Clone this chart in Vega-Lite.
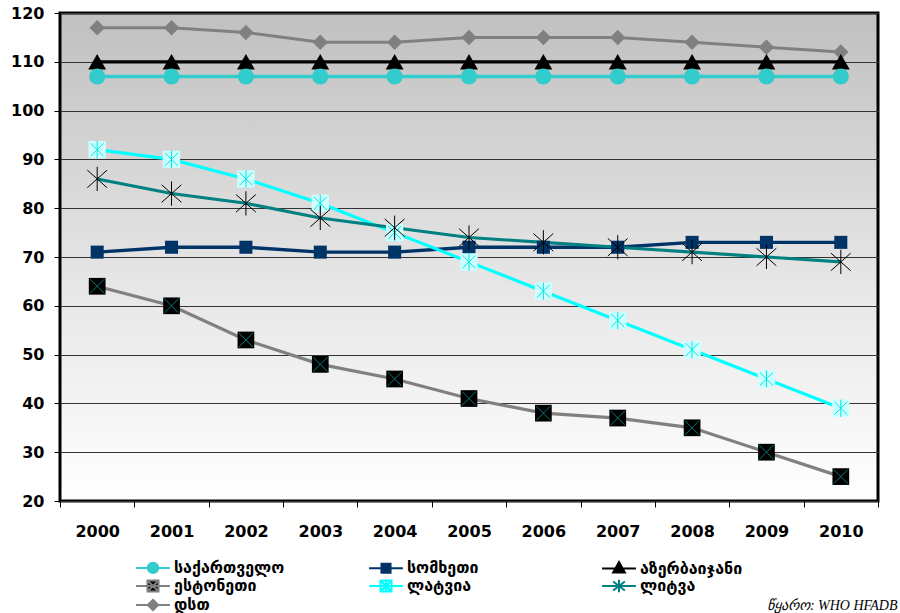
{
  "$schema": "https://vega.github.io/schema/vega-lite/v6.json",
  "autosize": {"type": "none"},
  "width": 818,
  "height": 488,
  "padding": {"left": 60, "top": 13, "right": 22, "bottom": 112},
  "background": "#ffffff",
  "config": {
    "view": {
      "stroke": "#000000",
      "strokeWidth": 3,
      "fill": {"gradient": "linear", "x1": 0, "y1": 0, "x2": 0, "y2": 1,
        "stops": [{"offset": 0, "color": "#c0c0c0"}, {"offset": 0.55, "color": "#e6e6e6"}, {"offset": 1, "color": "#ffffff"}]}
    },
    "axis": {"labelFont": "DejaVu Sans", "labelFontWeight": "bold", "labelFontSize": 16, "labelColor": "#000000", "domain": false, "tickColor": "#000000", "tickSize": 6},
    "legend": {"title": null, "orient": "none", "legendX": 85, "legendY": 546, "columns": 3, "direction": "horizontal",
      "symbolSize": 169, "symbolStrokeWidth": 2, "symbolOpacity": 1, "labelFont": "DejaVu Sans", "labelFontWeight": "bold",
      "labelFontSize": 16, "labelColor": "#000000", "labelOffset": 13, "columnPadding": 80, "rowPadding": -7, "gridAlign": "all", "padding": 0, "labelLimit": 300}
  },
  "data": {
    "values": [
      {"year": "2000", "საქართველო": 107, "სომხეთი": 71, "აზერბაიჯანი": 110, "ესტონეთი": 64, "ლატვია": 92, "ლიტვა": 86, "დსთ": 117},
      {"year": "2001", "საქართველო": 107, "სომხეთი": 72, "აზერბაიჯანი": 110, "ესტონეთი": 60, "ლატვია": 90, "ლიტვა": 83, "დსთ": 117},
      {"year": "2002", "საქართველო": 107, "სომხეთი": 72, "აზერბაიჯანი": 110, "ესტონეთი": 53, "ლატვია": 86, "ლიტვა": 81, "დსთ": 116},
      {"year": "2003", "საქართველო": 107, "სომხეთი": 71, "აზერბაიჯანი": 110, "ესტონეთი": 48, "ლატვია": 81, "ლიტვა": 78, "დსთ": 114},
      {"year": "2004", "საქართველო": 107, "სომხეთი": 71, "აზერბაიჯანი": 110, "ესტონეთი": 45, "ლატვია": 75, "ლიტვა": 76, "დსთ": 114},
      {"year": "2005", "საქართველო": 107, "სომხეთი": 72, "აზერბაიჯანი": 110, "ესტონეთი": 41, "ლატვია": 69, "ლიტვა": 74, "დსთ": 115},
      {"year": "2006", "საქართველო": 107, "სომხეთი": 72, "აზერბაიჯანი": 110, "ესტონეთი": 38, "ლატვია": 63, "ლიტვა": 73, "დსთ": 115},
      {"year": "2007", "საქართველო": 107, "სომხეთი": 72, "აზერბაიჯანი": 110, "ესტონეთი": 37, "ლატვია": 57, "ლიტვა": 72, "დსთ": 115},
      {"year": "2008", "საქართველო": 107, "სომხეთი": 73, "აზერბაიჯანი": 110, "ესტონეთი": 35, "ლატვია": 51, "ლიტვა": 71, "დსთ": 114},
      {"year": "2009", "საქართველო": 107, "სომხეთი": 73, "აზერბაიჯანი": 110, "ესტონეთი": 30, "ლატვია": 45, "ლიტვა": 70, "დსთ": 113},
      {"year": "2010", "საქართველო": 107, "სომხეთი": 73, "აზერბაიჯანი": 110, "ესტონეთი": 25, "ლატვია": 39, "ლიტვა": 69, "დსთ": 112}
    ]
  },
  "transform": [
    {"fold": ["საქართველო", "სომხეთი", "აზერბაიჯანი", "ესტონეთი", "ლატვია", "ლიტვა", "დსთ"], "as": ["country", "value"]}
  ],
  "encoding": {
    "x": {"field": "year", "type": "ordinal", "scale": {"type": "band", "paddingInner": 0, "paddingOuter": 0},
      "axis": {"labelAngle": 0, "tickBand": "extent", "labelPadding": 16, "grid": false,
        "title": "წყარო: WHO HFADB", "titleFont": "Liberation Serif", "titleFontStyle": "italic", "titleFontWeight": "normal", "titleFontSize": 14, "titleColor": "#000000",
        "titleAnchor": "end", "titleAlign": "right", "titleBaseline": "alphabetic", "titleX": 837, "titleY": 108}},
    "y": {"field": "value", "type": "quantitative", "scale": {"domain": [20, 120], "nice": false},
      "axis": {"title": null, "values": [20, 30, 40, 50, 60, 70, 80, 90, 100, 110, 120], "grid": true, "gridColor": "#333333", "gridWidth": 1, "labelPadding": 10}}
  },
  "layer": [
    {
      "mark": {"type": "line"},
      "encoding": {
        "color": {"field": "country", "type": "nominal", "legend": null,
          "scale": {"domain": ["დსთ", "ლიტვა", "ლატვია", "ესტონეთი", "აზერბაიჯანი", "სომხეთი", "საქართველო"],
            "range": ["#808080", "#008080", "#00ffff", "#808080", "#000000", "#003366", "#33cccc"]}},
        "strokeWidth": {"field": "country", "type": "nominal", "legend": null,
          "scale": {"domain": ["დსთ", "ლიტვა", "ლატვია", "ესტონეთი", "აზერბაიჯანი", "სომხეთი", "საქართველო"],
            "range": [3, 3.5, 4, 2, 3, 2.5, 2.5]}}
      }
    },
    {
      "transform": [{"filter": "datum.country === 'დსთ'"}],
      "mark": {"type": "point", "shape": "diamond", "filled": true, "opacity": 1, "size": 240, "color": "#808080"}
    },
    {
      "transform": [{"filter": "datum.country === 'აზერბაიჯანი'"}],
      "mark": {"type": "point", "shape": "triangle-up", "filled": true, "opacity": 1, "size": 320, "color": "#000000"}
    },
    {
      "transform": [{"filter": "datum.country === 'საქართველო'"}],
      "mark": {"type": "point", "shape": "circle", "filled": true, "opacity": 1, "size": 260, "color": "#33cccc"}
    },
    {
      "transform": [{"filter": "datum.country === 'სომხეთი'"}],
      "mark": {"type": "point", "shape": "square", "filled": true, "opacity": 1, "size": 170, "color": "#003366"}
    },
    {
      "transform": [{"filter": "datum.country === 'ესტონეთი'"}],
      "mark": {"type": "point", "shape": "square", "filled": true, "opacity": 1, "size": 280, "color": "#000000"}
    },
    {
      "transform": [{"filter": "datum.country === 'ესტონეთი'"}],
      "mark": {"type": "point", "shape": "M-0.85,-0.85L0.85,0.85M-0.85,0.85L0.85,-0.85", "filled": false, "opacity": 1, "size": 280, "strokeWidth": 1, "color": "#0a7a7a"}
    },
    {
      "transform": [{"filter": "datum.country === 'ლატვია'"}],
      "mark": {"type": "point", "shape": "square", "filled": true, "opacity": 1, "size": 300, "color": "#ccffff"}
    },
    {
      "transform": [{"filter": "datum.country === 'ლატვია'"}],
      "mark": {"type": "point", "shape": "M-0.75,-0.75L0.75,0.75M-0.75,0.75L0.75,-0.75M0,-1V1", "filled": false, "opacity": 1, "size": 300, "strokeWidth": 1, "color": "#00e5e5"}
    },
    {
      "transform": [{"filter": "datum.country === 'ლიტვა'"}],
      "mark": {"type": "point", "shape": "M-0.9,-0.8L0.9,0.8M-0.9,0.8L0.9,-0.8M0,-1.1V1.1", "filled": false, "opacity": 1, "size": 484, "strokeWidth": 1, "color": "#000000"}
    },
    {
      "mark": {"type": "point", "opacity": 0, "filled": true},
      "encoding": {
        "shape": {"field": "country", "type": "nominal",
          "scale": {"domain": ["საქართველო", "სომხეთი", "აზერბაიჯანი", "ესტონეთი", "ლატვია", "ლიტვა", "დსთ"],
            "range": [
              "M-2.6,0H2.6M-0.8,0A0.8,0.8 0 1,0 0.8,0A0.8,0.8 0 1,0 -0.8,0Z",
              "M-2.6,0H2.6M-0.7,-0.7H0.7V0.7H-0.7Z",
              "M-2.6,0H2.6M0,-1L0.9,0.6H-0.9Z",
              "M-2.6,0H2.6M-0.85,-0.85H0.85V0.85H-0.85ZM-0.75,-0.75L0.75,0.75M-0.75,0.75L0.75,-0.75",
              "M-2.6,0H2.6M-0.85,-0.85H0.85V0.85H-0.85ZM-0.7,-0.7L0.7,0.7M-0.7,0.7L0.7,-0.7M0,-0.85V0.85",
              "M-2.6,0H2.6M-0.9,-0.7L0.9,0.7M-0.9,0.7L0.9,-0.7M0,-0.95V0.95",
              "M-2.6,0H2.6M0,-0.8L0.8,0L0,0.8L-0.8,0Z"
            ]}},
        "fill": {"field": "country", "type": "nominal",
          "scale": {"domain": ["საქართველო", "სომხეთი", "აზერბაიჯანი", "ესტონეთი", "ლატვია", "ლიტვა", "დსთ"],
            "range": ["#33cccc", "#003366", "#000000", "#000000", "#ccffff", "#008080", "#808080"]}},
        "stroke": {"field": "country", "type": "nominal",
          "scale": {"domain": ["საქართველო", "სომხეთი", "აზერბაიჯანი", "ესტონეთი", "ლატვია", "ლიტვა", "დსთ"],
            "range": ["#33cccc", "#003366", "#000000", "#808080", "#00ffff", "#008080", "#808080"]}}
      }
    }
  ]
}
